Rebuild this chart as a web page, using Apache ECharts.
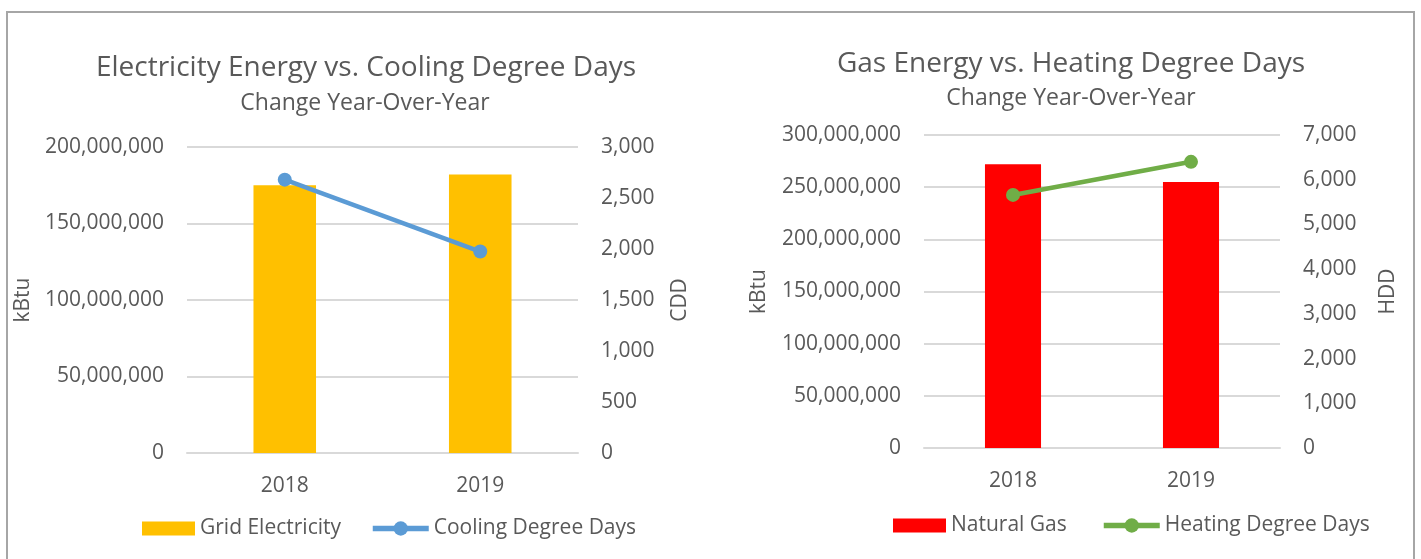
<!DOCTYPE html>
<html>
<head>
<meta charset="utf-8">
<title>Energy vs. Degree Days</title>
<script src="https://cdn.jsdelivr.net/npm/echarts@6/dist/echarts.min.js"></script>
<style>
  html, body { margin: 0; padding: 0; background: #fff; }
  #chart { width: 1421px; height: 559px; }
</style>
</head>
<body>
<div id="chart"></div>
<script>
// data
const years = ['2018', '2019'];

const gridElectricity = [175000000, 182000000];   // kBtu
const coolingDegreeDays = [2680, 1975];           // CDD

const naturalGas = [272000000, 255000000];        // kBtu
const heatingDegreeDays = [5660, 6400];           // HDD

const font = 'Open Sans';
const textColor = '#595959';
const gridColor = '#d9d9d9';

const chartDom = document.getElementById('chart');
const myChart = echarts.init(chartDom, null, { renderer: 'canvas' });

const fmt = v => v.toLocaleString('en-US');

function titleAt(text, x, y, size) {
    return {
        text: text,
        left: x,
        top: y,
        textAlign: 'center',
        padding: 0,
        textStyle: { fontFamily: font, fontSize: size, fontWeight: 'normal', color: textColor, lineHeight: size }
    };
}

function catAxis(gridIndex) {
    return {
        type: 'category',
        gridIndex: gridIndex,
        data: years,
        axisLine: { lineStyle: { color: gridColor, width: 2 } },
        axisTick: { show: false },
        axisLabel: { fontFamily: font, fontSize: 21, color: textColor, margin: 23 }
    };
}

function valAxis(gridIndex, max, interval, name, nameGap, split) {
    return {
        type: 'value',
        gridIndex: gridIndex,
        min: 0,
        max: max,
        interval: interval,
        name: name,
        nameLocation: 'middle',
        nameRotate: 90,
        nameGap: nameGap,
        nameTextStyle: { fontFamily: font, fontSize: 21, color: textColor },
        axisLine: { show: false },
        axisTick: { show: false },
        axisLabel: { fontFamily: font, fontSize: 21, color: textColor, margin: 23, formatter: fmt },
        splitLine: { show: split, lineStyle: { color: gridColor, width: 2 } }
    };
}

const legendText = { fontFamily: font, fontSize: 21, color: textColor };

// bar and line legend entries are split so the line marker can be drawn larger
function barLegend(name, x, y) {
    return {
        left: x, top: y, padding: 0,
        itemWidth: 53, itemHeight: 14,
        textStyle: legendText,
        data: [{ name: name, icon: 'rect' }]
    };
}

function lineLegend(name, x, y) {
    return {
        left: x, top: y, padding: 0,
        itemWidth: 56, itemHeight: 18,
        textStyle: legendText,
        data: [{ name: name, lineStyle: { width: 5.5 } }]
    };
}

const option = {
    animation: false,
    backgroundColor: '#fff',
    title: [
        titleAt('Electricity Energy vs. Cooling Degree Days', 366, 54, 28),
        titleAt('Change Year-Over-Year', 365, 92, 23),
        titleAt('Gas Energy vs. Heating Degree Days', 1071, 50, 28),
        titleAt('Change Year-Over-Year', 1071, 87, 23)
    ],
    grid: [
        { left: 187, right: 843, top: 147, height: 306, containLabel: false },
        { left: 924, right: 141, top: 135, height: 313, containLabel: false }
    ],
    legend: [
        barLegend('Grid Electricity', 142, 518),
        lineLegend('Cooling Degree Days', 370, 518),
        barLegend('Natural Gas', 893, 515),
        lineLegend('Heating Degree Days', 1101, 515)
    ],
    xAxis: [catAxis(0), catAxis(1)],
    yAxis: [
        valAxis(0, 200000000, 50000000, 'kBtu', 153, true),
        valAxis(0, 3000, 500, 'CDD', 92, false),
        valAxis(1, 300000000, 50000000, 'kBtu', 154, true),
        valAxis(1, 7000, 1000, 'HDD', 98, false)
    ],
    series: [
        {
            name: 'Grid Electricity', type: 'bar',
            xAxisIndex: 0, yAxisIndex: 0,
            barWidth: '32%',
            itemStyle: { color: '#FFC000' },
            data: gridElectricity
        },
        {
            name: 'Cooling Degree Days', type: 'line',
            xAxisIndex: 0, yAxisIndex: 1,
            symbol: 'circle', symbolSize: 14,
            lineStyle: { color: '#5B9BD5', width: 4.5 },
            itemStyle: { color: '#5B9BD5' },
            data: coolingDegreeDays
        },
        {
            name: 'Natural Gas', type: 'bar',
            xAxisIndex: 1, yAxisIndex: 2,
            barWidth: '31.5%',
            itemStyle: { color: '#FF0000' },
            data: naturalGas
        },
        {
            name: 'Heating Degree Days', type: 'line',
            xAxisIndex: 1, yAxisIndex: 3,
            symbol: 'circle', symbolSize: 14,
            lineStyle: { color: '#70AD47', width: 4.5 },
            itemStyle: { color: '#70AD47' },
            data: heatingDegreeDays
        }
    ],
    // outer frame of the worksheet area
    graphic: [
        {
            type: 'rect',
            shape: { x: 7, y: 12, width: 1407, height: 600 },
            style: { fill: null, stroke: '#a6a6a6', lineWidth: 2 },
            silent: true
        }
    ]
};

myChart.setOption(option);
</script>
</body>
</html>
